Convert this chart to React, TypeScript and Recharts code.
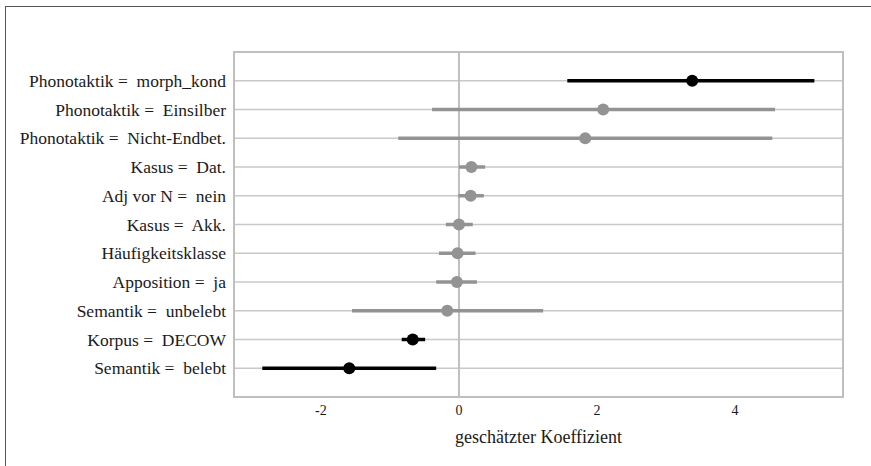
import { ScatterChart, Scatter, XAxis, YAxis, CartesianGrid, ReferenceLine, ReferenceArea, ErrorBar, Label } from 'recharts';

const labels = [
  'Phonotaktik =  morph_kond',
  'Phonotaktik =  Einsilber',
  'Phonotaktik =  Nicht-Endbet.',
  'Kasus =  Dat.',
  'Adj vor N =  nein',
  'Kasus =  Akk.',
  'Häufigkeitsklasse',
  'Apposition =  ja',
  'Semantik =  unbelebt',
  'Korpus =  DECOW',
  'Semantik =  belebt',
];
const estimates = [3.38, 2.09, 1.83, 0.18, 0.17, 0.0, -0.02, -0.03, -0.17, -0.67, -1.59];
const lower = [1.57, -0.39, -0.88, 0.0, -0.01, -0.19, -0.29, -0.33, -1.55, -0.83, -2.85];
const upper = [5.15, 4.58, 4.54, 0.38, 0.36, 0.2, 0.24, 0.26, 1.22, -0.49, -0.33];
const significant = [true, false, false, false, false, false, false, false, false, true, true];
const xTicks = [-2, 0, 2, 4];

const FONT = '"Liberation Serif", "DejaVu Serif", serif';
const GRAY = '#939393';

const rows = labels.map((label, i) => ({
  label,
  row: i + 1,
  est: estimates[i],
  err: [estimates[i] - lower[i], upper[i] - estimates[i]],
  sig: significant[i],
}));
const sigRows = rows.filter((r) => r.sig);
const otherRows = rows.filter((r) => !r.sig);

const X_MIN = -3.26;
const X_MAX = 5.565;

function YTick(props: any) {
  const { x, y, payload } = props;
  return (
    <text x={x} y={y} dy="0.35em" textAnchor="end" fontFamily={FONT} fontSize={17.5} fill="#1a1a1a" style={{ whiteSpace: 'pre' }}>
      {labels[payload.value - 1]}
    </text>
  );
}

const dot = (color: string) => (props: any) => <circle cx={props.cx} cy={props.cy} r={6} fill={color} />;

export default function App() {
  return (
    <div style={{ position: 'relative', width: 871, height: 466, overflow: 'hidden', background: '#fff' }}>
      <style>{'body{margin:0}'}</style>
      <div
        style={{
          position: 'absolute',
          left: 5,
          top: 6,
          width: 900,
          height: 500,
          borderLeft: '1.5px solid #555',
          borderTop: '1.5px solid #555',
        }}
      />
      <div style={{ position: 'absolute', left: 0, top: 0 }}>
        <ScatterChart width={871} height={466} margin={{ top: 52, right: 28, bottom: 39, left: 14 }}>
          <CartesianGrid vertical={false} stroke="#c8c8c8" strokeWidth={1.3} />
          <XAxis
            type="number"
            dataKey="est"
            domain={[X_MIN, X_MAX]}
            ticks={xTicks}
            allowDataOverflow
            height={30}
            axisLine={false}
            tickLine={false}
            tickMargin={2}
            tick={{ fontFamily: FONT, fontSize: 14, fill: '#1a1a1a' }}
          >
            <Label value="geschätzter Koeffizient" position="insideBottom" offset={-16} style={{ fontFamily: FONT, fontSize: 18, fill: '#1a1a1a' }} />
          </XAxis>
          <YAxis
            type="number"
            dataKey="row"
            domain={[0, 12]}
            reversed
            ticks={[1, 2, 3, 4, 5, 6, 7, 8, 9, 10, 11]}
            width={220}
            axisLine={false}
            tickLine={false}
            tick={<YTick />}
          />
          <ReferenceLine x={0} stroke="#bfbfbf" strokeWidth={2} />
          <ReferenceArea x1={X_MIN} x2={X_MAX} y1={0} y2={12} fill="none" stroke="#bfbfbf" strokeWidth={2} ifOverflow="visible" />
          <Scatter data={otherRows} isAnimationActive={false} shape={dot(GRAY)}>
            <ErrorBar dataKey="err" direction="x" width={0} stroke={GRAY} strokeWidth={3.5} />
          </Scatter>
          <Scatter data={sigRows} isAnimationActive={false} shape={dot('#000')}>
            <ErrorBar dataKey="err" direction="x" width={0} stroke="#000" strokeWidth={3.5} />
          </Scatter>
        </ScatterChart>
      </div>
    </div>
  );
}
